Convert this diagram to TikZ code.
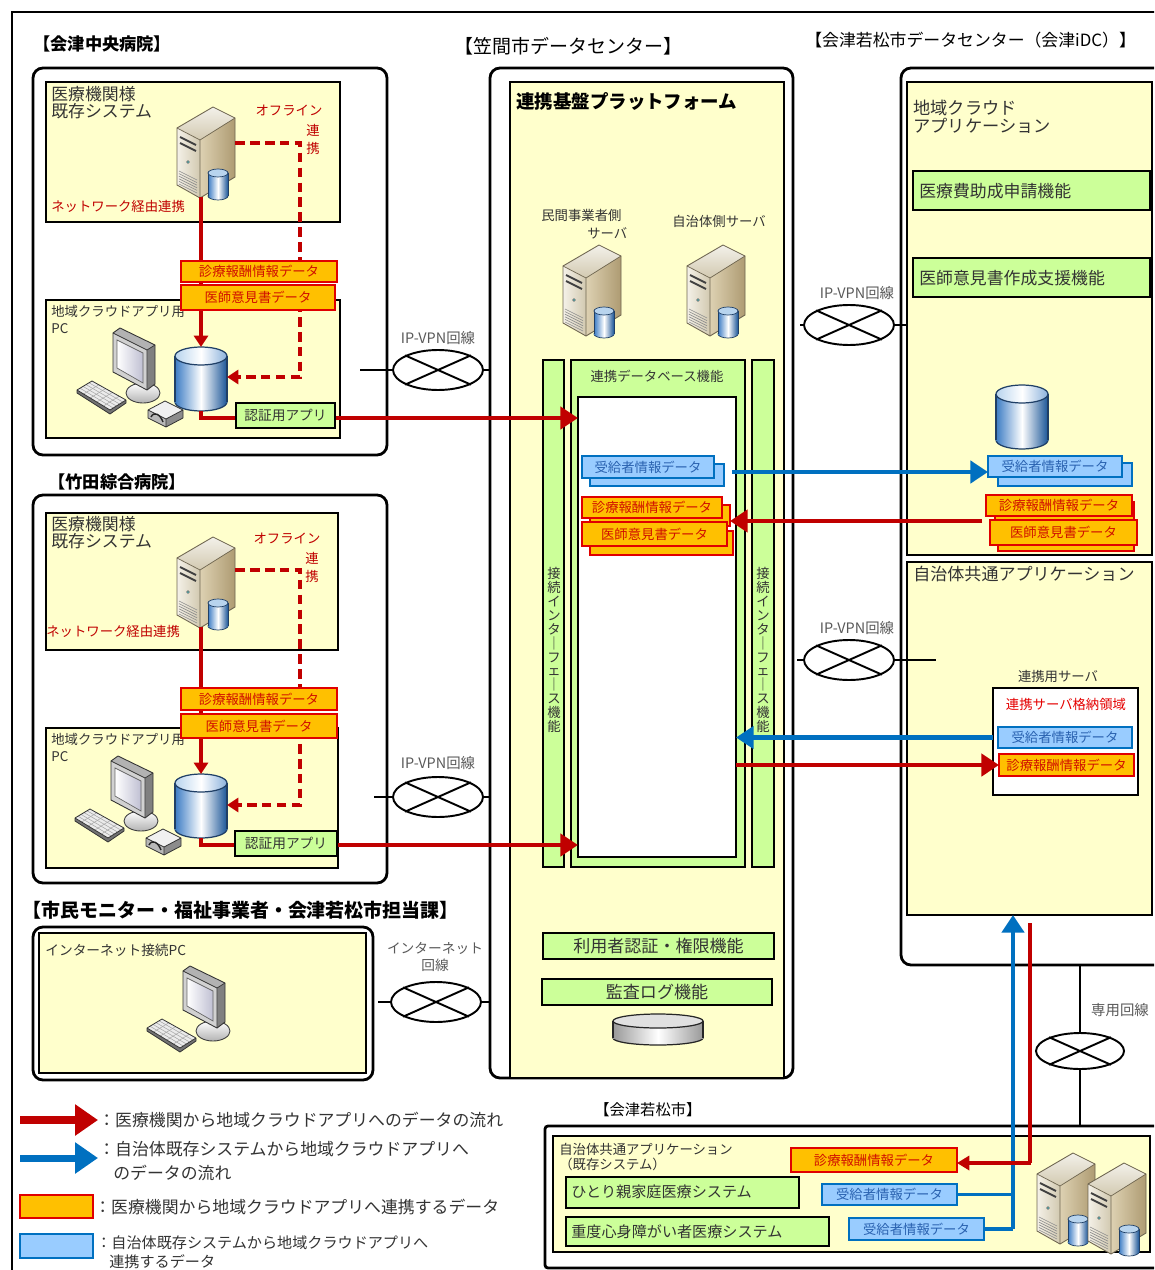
\documentclass[tikz,border=0pt]{standalone}
\usepackage{fontspec}
\setmainfont{Noto Sans CJK JP}
\usetikzlibrary{arrows.meta,calc,shapes.geometric}

\definecolor{paleyellow}{HTML}{FFFFCC}
\definecolor{palegreen}{HTML}{CCFF99}
\definecolor{tagorange}{HTML}{FFC000}
\definecolor{tagred}{HTML}{E00000}
\definecolor{tagredtext}{HTML}{D01000}
\definecolor{tagblue}{HTML}{99CCFF}
\definecolor{tagblueedge}{HTML}{0070C0}
\definecolor{tagbluetext}{HTML}{2A62B0}
\definecolor{flowredc}{HTML}{C00000}
\definecolor{flowbluec}{HTML}{0070C0}
\definecolor{notered}{HTML}{C00000}
\definecolor{labelgray}{HTML}{333333}
\definecolor{srvtop}{HTML}{F3F1EA}
\definecolor{srvfrontA}{HTML}{F4F1E8}
\definecolor{srvfrontB}{HTML}{D2C9B0}
\definecolor{srvsideA}{HTML}{DDD1B2}
\definecolor{srvsideB}{HTML}{AE9B72}
\definecolor{srvedge}{HTML}{6E6550}
\definecolor{cylA}{HTML}{3C7CC4}
\definecolor{cylB}{HTML}{1A5597}
\definecolor{cyltop}{HTML}{B8D4EE}
\definecolor{cyledge}{HTML}{1F3F66}

\newcommand\fsz[1]{\fontsize{#1}{#1}\selectfont}
\newcommand\fszl[2]{\fontsize{#1}{#2}\selectfont}

% rectangle node given by its two corners in pixel units
\newcommand\pxrect[7]{%
  \pgfmathsetmacro\pxw{((#5)-(#3))*0.02}%
  \pgfmathsetmacro\pxh{((#6)-(#4))*0.02}%
  \node[#2, rectangle, inner sep=0pt, outer sep=0pt,
        minimum width=\pxw cm, minimum height=\pxh cm]
        (#1) at ({((#3)+(#5))/2},{((#4)+(#6))/2}) {#7};}

% network cloud symbol: ellipse with a cross
\newcommand\vpnoval[4][]{%
  \node[vpn,#1] (#2) at (#3,#4) {};
  \draw[line width=1.1pt] (#2.24) -- (#2.204) (#2.156) -- (#2.336);}

\tikzset{
  rframe/.style={draw, line width=1.6pt, rounded corners=0.2cm, fill=white},
  ybox/.style={draw, line width=1.1pt, fill=paleyellow},
  gbox/.style={draw, line width=1.1pt, fill=palegreen},
  wbox/.style={draw, line width=1.1pt, fill=white},
  otag/.style={draw=tagred, line width=1.1pt, fill=tagorange, text=tagredtext, font=\fsz{7.6}},
  btag/.style={draw=tagblueedge, line width=1.1pt, fill=tagblue, text=tagbluetext, font=\fsz{7.6}},
  otagsh/.style={draw=tagred, line width=1.1pt, fill=tagorange},
  btagsh/.style={draw=tagblueedge, line width=1.1pt, fill=tagblue},
  title/.style={font=\bfseries\fsz{9.8}, anchor=west, inner sep=0pt},
  lbl/.style={inner sep=0pt, text=labelgray},
  small/.style={lbl, font=\fsz{7.6}},
  netlbl/.style={inner sep=0pt, text=black!65, font=\fsz{8.2}},
  redsmall/.style={inner sep=0pt, text=notered, font=\fsz{7.6}},
  vpn/.style={ellipse, draw, line width=1.1pt, fill=white, minimum width=1.8cm, minimum height=0.8cm, inner sep=0pt},
  link/.style={line width=0.9pt},
  flowr/.style={draw=flowredc, line width=2.8pt, -{Triangle[length=10pt,width=12.5pt]}},
  flowb/.style={draw=flowbluec, line width=2.8pt, -{Triangle[length=10pt,width=12.5pt]}},
  legr/.style={draw=flowredc, line width=4pt, -{Triangle[length=13pt,width=17pt]}},
  legb/.style={draw=flowbluec, line width=4pt, -{Triangle[length=13pt,width=17pt]}},
  netr/.style={draw=flowredc, line width=2pt, -{Triangle[length=6.5pt,width=8pt]}},
  offr/.style={netr, dash pattern=on 5.5pt off 3pt},
  holder/.style={inner sep=0pt, outer sep=0pt},
  % tower server with a small database drum
  server/.pic={
    \shade[top color=srvtop, bottom color=srvfrontB] (-29,-24) -- (7,-45) -- (29,-34) -- (-6,-12) -- cycle;
    \shade[left color=srvfrontA, right color=srvfrontB] (-29,-24) -- (-6,-12) -- (-6,46) -- (-29,33) -- cycle;
    \shade[left color=srvsideA, right color=srvsideB] (-6,-12) -- (29,-34) -- (29,25) -- (-6,46) -- cycle;
    \draw[srvedge, line width=0.5pt, line join=round] (-29,-24) -- (7,-45) -- (29,-34) -- (29,25) -- (-6,46) -- (-29,33) -- cycle;
    \draw[srvedge, line width=0.4pt] (-29,-24) -- (-6,-12) -- (29,-34) (-6,-12) -- (-6,46);
    \draw[black!75, line width=1.1pt] (-26,-15) -- (-10,-7) (-26,-9) -- (-10,-1);
    \fill[black!55] (-18,10) circle (1.8);
    \fill[teal!70] (-18,10) circle (1);
    \foreach \k in {0,1,2,3,4,5} \draw[black!45, line width=0.35pt] (-27,19+2.6*\k) -- (-9,28+2.6*\k);
    \shade[left color=cylA, right color=cylB, middle color=white] (12,44) ellipse [x radius=10, y radius=4];
    \draw[cyledge, line width=0.4pt] (12,44) ellipse [x radius=10, y radius=4];
    \shade[left color=cylA, right color=cylB, middle color=white] (2,21) rectangle (22,44);
    \draw[cyledge, line width=0.4pt] (2,21) -- (2,44) (22,21) -- (22,44);
    \fill[cyltop] (12,21) ellipse [x radius=10, y radius=4];
    \draw[cyledge, line width=0.4pt] (12,21) ellipse [x radius=10, y radius=4];
  },
  % database drum
  dbcyl/.pic={
    \shade[left color=cylA, right color=cylB, middle color=white] (0,23) ellipse [x radius=26, y radius=9];
    \draw[cyledge, line width=0.7pt] (0,23) ellipse [x radius=26, y radius=9];
    \shade[left color=cylA, right color=cylB, middle color=white] (-26,-23) rectangle (26,23);
    \draw[cyledge, line width=0.7pt] (-26,-23) -- (-26,23) (26,-23) -- (26,23);
    \shade[left color=cyltop, right color=cylA!60, middle color=white] (0,-23) ellipse [x radius=26, y radius=9];
    \draw[cyledge, line width=0.7pt] (0,-23) ellipse [x radius=26, y radius=9];
  },
  % flat grey storage disc
  disc/.pic={
    \shade[left color=black!40, right color=black!40, middle color=white] (0,9) ellipse [x radius=45, y radius=7];
    \draw[black!85, line width=0.7pt] (0,9) ellipse [x radius=45, y radius=7];
    \shade[left color=black!40, right color=black!40, middle color=white] (-45,-8) rectangle (45,9);
    \draw[black!85, line width=0.7pt] (-45,-8) -- (-45,9) (45,-8) -- (45,9);
    \fill[black!12] (0,-8) ellipse [x radius=45, y radius=7];
    \draw[black!85, line width=0.7pt] (0,-8) ellipse [x radius=45, y radius=7];
  },
  % monitor and keyboard
  pcset/.pic={
    \fill[black!40] (9,12) -- (19,8) -- (19,26) -- (9,28) -- cycle;
    \shade[top color=white, bottom color=black!30] (13,28) ellipse [x radius=17, y radius=10];
    \draw[black!75, line width=0.5pt] (13,28) ellipse [x radius=17, y radius=10];
    \fill[black!30] (-17,-32) -- (-10,-37) -- (25,-20) -- (17,-15) -- cycle;
    \fill[black!50] (17,-15) -- (25,-20) -- (25,19) -- (17,25) -- cycle;
    \fill[black!18] (-17,-32) -- (17,-15) -- (17,25) -- (-17,7) -- cycle;
    \shade[left color=white, right color=blue!30!black!25] (-13,-25) -- (13,-12) -- (13,18) -- (-13,3) -- cycle;
    \draw[black!80, line width=0.5pt, line join=round] (-17,-32) -- (-10,-37) -- (25,-20) -- (25,19) -- (17,25) -- (-17,7) -- cycle;
    \draw[black!80, line width=0.4pt] (-17,-32) -- (17,-15) -- (25,-20) (17,-15) -- (17,25);
    \draw[black!60, line width=0.4pt] (-13,-25) -- (13,-12) -- (13,18) -- (-13,3) -- cycle;
    \fill[black!55] (-53,25) -- (-20,45) -- (-4,35) -- (-4,38) -- (-20,49) -- (-53,28) -- cycle;
    \fill[black!8] (-53,25) -- (-38,16) -- (-4,35) -- (-20,45) -- cycle;
    \foreach \k in {0.2,0.4,0.6,0.8} \draw[black!35, line width=0.3pt] ($(-53,25)!\k!(-38,16)$) -- ($(-20,45)!\k!(-4,35)$);
    \foreach \k in {0.2,0.4,0.6,0.8} \draw[black!35, line width=0.3pt] ($(-53,25)!\k!(-20,45)$) -- ($(-38,16)!\k!(-4,35)$);
    \draw[black!80, line width=0.45pt, line join=round] (-53,25) -- (-38,16) -- (-4,35) -- (-4,38) -- (-20,49) -- (-53,28) -- cycle (-53,25) -- (-20,45) -- (-4,35);
  },
  % card reader beside the keyboard
  cardreader/.pic={
    \fill[black!6] (18,45) -- (35,36) -- (53,45) -- (36,54) -- cycle;
    \fill[black!28] (18,45) -- (36,54) -- (36,62) -- (18,53) -- cycle;
    \fill[black!45] (36,54) -- (53,45) -- (53,53) -- (36,62) -- cycle;
    \draw[black!80, line width=0.45pt, line join=round] (18,45) -- (35,36) -- (53,45) -- (53,53) -- (36,62) -- (18,53) -- cycle (18,45) -- (36,54) -- (53,45) (36,54) -- (36,62);
    \draw[black!85, line width=0.8pt] (21,52) .. controls (24,46) and (30,49) .. (33,57);
  },
}

\begin{document}
\begin{tikzpicture}[x=0.02cm, y=-0.02cm]
\path[use as bounding box] (0,0) rectangle (1154,1270);
\begin{scope}
\clip (0,0) rectangle (1154,1270);
\draw[line width=0.9pt] (12,1300) -- (12,12) -- (1200,12);

% ---------------- Aizu Chuo Hospital ----------------
\node[title] (h1title) at (33,44) {【会津中央病院】};
\pxrect{h1frame}{rframe}{33}{68}{387}{455}{}
\pxrect{h1sys}{ybox}{46}{82}{340}{222}{}
\pxrect{h1pc}{ybox}{46}{300}{340}{438}{}
\node[lbl, anchor=north west, align=left, font=\fszl{9.6}{8.6}] (h1systxt) at (51,86) {医療機関様\\既存システム};
\node[holder, minimum width=1.16cm, minimum height=1.82cm] (h1srv) at (206,152) {};
\pic at (h1srv) {server};
\node[redsmall] (h1off) at (289,111) {オフライン};
\node[redsmall] (h1ren) at (313,130) {連};
\node[redsmall] (h1kei) at (313,148) {携};
\node[redsmall, anchor=west] (h1net) at (51,206) {ネットワーク経由連携};
\node[lbl, anchor=north west, align=left, font=\fszl{7.6}{9.5}] (h1pctxt) at (51,305) {地域クラウドアプリ用\\PC};
\node[holder] (h1pcicon) at (130,365) {};
\pic at (h1pcicon) {pcset};
\pic at (h1pcicon) {cardreader};
\node[holder, minimum width=1.04cm, minimum height=1.28cm] (h1db) at (201,379) {};
\pic at (h1db) {dbcyl};
\draw[netr] (h1srv.south -| h1db.north) -- (h1db.north);
\draw[offr] (h1srv.east |- 0,143) -- (300,143) -- (300,377) -- (h1db.east |- 0,377);
\pxrect{h1tagA}{otag}{181}{261}{337}{282}{診療報酬情報データ}
\pxrect{h1tagB}{otag}{181}{285}{335}{310}{医師意見書データ}
\vpnoval{vpnA}{438}{370}
\node[netlbl] (vpnAlbl) at (438,338) {IP-VPN回線};
\coordinate (vpnAl) at (360,370);
\coordinate (vpnAr) at (500,370);
\draw[link] (vpnAl) -- (vpnA.west) (vpnA.east) -- (vpnAr);

% ---------------- Takeda General Hospital ----------------
\node[title] (h2title) at (48,482) {【竹田綜合病院】};
\pxrect{h2frame}{rframe}{33}{495}{387}{883}{}
\pxrect{h2sys}{ybox}{46}{513}{338}{650}{}
\pxrect{h2pc}{ybox}{46}{728}{338}{868}{}
\node[lbl, anchor=north west, align=left, font=\fszl{9.6}{8.6}] (h2systxt) at (51,516) {医療機関様\\既存システム};
\node[holder, minimum width=1.16cm, minimum height=1.82cm] (h2srv) at (206,582) {};
\pic at (h2srv) {server};
\node[redsmall] (h2off) at (287,539) {オフライン};
\node[redsmall] (h2ren) at (312,558) {連};
\node[redsmall] (h2kei) at (312,576) {携};
\node[redsmall, anchor=west] (h2net) at (46,631) {ネットワーク経由連携};
\node[lbl, anchor=north west, align=left, font=\fszl{7.6}{9.5}] (h2pctxt) at (51,733) {地域クラウドアプリ用\\PC};
\node[holder] (h2pcicon) at (128,793) {};
\pic at (h2pcicon) {pcset};
\pic at (h2pcicon) {cardreader};
\node[holder, minimum width=1.04cm, minimum height=1.28cm] (h2db) at (201,806) {};
\pic at (h2db) {dbcyl};
\draw[netr] (h2srv.south -| h2db.north) -- (h2db.north);
\draw[offr] (h2srv.east |- 0,570) -- (300,570) -- (300,805) -- (h2db.east |- 0,805);
\pxrect{h2tagA}{otag}{181}{688}{337}{710}{診療報酬情報データ}
\pxrect{h2tagB}{otag}{181}{714}{337}{738}{医師意見書データ}
\vpnoval{vpnB}{438}{797}
\node[netlbl] (vpnBlbl) at (438,763) {IP-VPN回線};
\coordinate (vpnBl) at (374,797);
\coordinate (vpnBr) at (498,797);
\draw[link] (vpnBl) -- (vpnB.west) (vpnB.east) -- (vpnBr);

% ---------------- Citizens and offices ----------------
\node[title, font=\bfseries\fsz{10.8}] (mtitle) at (22,910) {【市民モニター・福祉事業者・会津若松市担当課】};
\pxrect{mframe}{rframe}{33}{927}{373}{1080}{}
\pxrect{mbox}{ybox}{39}{933}{366}{1073}{}
\node[lbl, anchor=west, font=\fsz{7.8}] (mpctxt) at (45,950) {インターネット接続PC};
\node[holder] (mpc) at (200,1003) {};
\pic at (mpc) {pcset};
\vpnoval{vpnE}{436}{1002}
\node[netlbl, align=center, font=\fszl{7.8}{10}] (vpnElbl) at (435,957) {インターネット\\回線};
\coordinate (vpnEl) at (378,1002);
\coordinate (vpnEr) at (494,1002);
\draw[link] (vpnEl) -- (vpnE.west) (vpnE.east) -- (vpnEr);

% ---------------- Kasama data center ----------------
\node[anchor=west, inner sep=0pt, font=\fsz{10.8}] (ktitle) at (454,46) {【笠間市データセンター】};
\pxrect{kframe}{rframe}{490}{68}{793}{1078}{}
\pxrect{kplat}{ybox}{510}{82}{784}{1078}{}
\node[anchor=west, inner sep=0pt, font=\bfseries\fsz{10.5}] (kplattitle) at (516,101) {連携基盤プラットフォーム};
\node[small, anchor=west] (kpriv1) at (541,215) {民間事業者側};
\node[small, anchor=west] (kpriv2) at (587,233) {サーバ};
\node[holder, minimum width=1.16cm, minimum height=1.82cm] (ksrvA) at (592,290) {};
\pic at (ksrvA) {server};
\node[small, anchor=west] (kmun) at (672,221) {自治体側サーバ};
\node[holder, minimum width=1.16cm, minimum height=1.82cm] (ksrvB) at (716,290) {};
\pic at (ksrvB) {server};
\pxrect{kbarL}{gbox}{543}{360}{564}{867}{}
\pxrect{kdbf}{gbox}{571}{360}{745}{867}{}
\pxrect{kbarR}{gbox}{752}{360}{774}{867}{}
\node[small] (kdbftitle) at (657,376) {連携データベース機能};
\pxrect{kdbw}{wbox}{578}{397}{736}{857}{}
\node[lbl, font=\fszl{7.6}{7.9}, align=center] (kbarLtxt) at (554,650) {接\\続\\イ\\ン\\タ\\｜\\フ\\ェ\\｜\\ス\\機\\能};
\node[lbl, font=\fszl{7.6}{7.9}, align=center] (kbarRtxt) at (763,650) {接\\続\\イ\\ン\\タ\\｜\\フ\\ェ\\｜\\ス\\機\\能};
\pxrect{kbsh}{btagsh}{590}{464}{724}{486}{}
\pxrect{kbtag}{btag}{582}{456}{714}{478}{受給者情報データ}
\pxrect{kosh1}{otagsh}{590}{505}{730}{526}{}
\pxrect{kotag1}{otag}{582}{497}{722}{518}{診療報酬情報データ}
\pxrect{kosh2}{otagsh}{590}{531}{733}{555}{}
\pxrect{kotag2}{otag}{582}{522}{727}{546}{医師意見書データ}
\pxrect{kauth}{gbox, font=\fsz{9.7}, text=labelgray}{543}{933}{774}{959}{利用者認証・権限機能}
\pxrect{klog}{gbox, font=\fsz{9.7}, text=labelgray}{542}{979}{772}{1005}{監査ログ機能}
\node[holder, minimum width=1.8cm, minimum height=0.64cm] (kdisc) at (658,1029) {};
\pic at (kdisc) {disc};

% ---------------- Aizu iDC ----------------
\node[anchor=west, inner sep=0pt, font=\fsz{9.6}] (ititle) at (805,40) {【会津若松市データセンター（会津iDC）】};
\pxrect{iframe}{rframe}{901}{68}{1190}{965}{}
\pxrect{iapp}{ybox}{907}{82}{1152}{555}{}
\node[lbl, anchor=north west, align=left, font=\fszl{9.8}{8.8}] (iapptitle) at (913,100) {地域クラウド\\アプリケーション};
\pxrect{ifunc1}{gbox}{913}{171}{1150}{210}{}
\node[lbl, anchor=west, font=\fsz{9.6}] (ifunc1txt) at (919,191) {医療費助成申請機能};
\pxrect{ifunc2}{gbox}{913}{258}{1150}{297}{}
\node[lbl, anchor=west, font=\fsz{9.6}] (ifunc2txt) at (919,278) {医師意見書作成支援機能};
\node[holder, minimum width=1.04cm, minimum height=1.28cm] (idb) at (1022,417) {};
\pic at (idb) {dbcyl};
\pxrect{ibsh}{btagsh}{998}{463}{1132}{486}{}
\pxrect{ibtag}{btag}{988}{456}{1122}{477}{受給者情報データ}
\pxrect{iosh1}{otagsh}{995}{502}{1134}{522}{}
\pxrect{iotag1}{otag}{986}{495}{1132}{516}{診療報酬情報データ}
\pxrect{iosh2}{otagsh}{998}{528}{1134}{551}{}
\pxrect{iotag2}{otag}{990}{520}{1137}{545}{医師意見書データ}
\pxrect{icommon}{ybox}{907}{562}{1152}{915}{}
\node[lbl, anchor=west, font=\fsz{9.7}] (icommontitle) at (913,574) {自治体共通アプリケーション};
\node[small] (irelaytitle) at (1058,676) {連携用サーバ};
\pxrect{irelay}{wbox}{993}{688}{1138}{795}{}
\node[inner sep=0pt, text=red!90!black, font=\fsz{7.6}] (irelayarea) at (1066,704) {連携サーバ格納領域};
\pxrect{irbtag}{btag}{998}{727}{1132}{748}{受給者情報データ}
\pxrect{irotag}{otag}{999}{754}{1134}{776}{診療報酬情報データ}

\vpnoval{vpnC}{849}{325}
\node[netlbl] (vpnClbl) at (857,293) {IP-VPN回線};
\coordinate (vpnCl) at (800,325);
\draw[link] (vpnCl) -- (vpnC.west) (vpnC.east) -- (iapp.west |- vpnC.east);
\vpnoval{vpnD}{849}{660}
\node[netlbl] (vpnDlbl) at (857,628) {IP-VPN回線};
\coordinate (vpnDl) at (797,660);
\coordinate (vpnDr) at (936,660);
\draw[link] (vpnDl) -- (vpnD.west) (vpnD.east) -- (vpnDr);

% ---------------- Aizuwakamatsu city ----------------
\node[anchor=west, inner sep=0pt, font=\fsz{8.7}] (ctitle) at (594,1110) {【会津若松市】};
\pxrect{cframe}{draw, line width=1.6pt, fill=white, rounded corners=0.06cm}{545}{1126}{1175}{1268}{}
\pxrect{capp}{ybox}{553}{1136}{1150}{1252}{}
\node[lbl, anchor=north west, align=left, font=\fszl{7.6}{8.2}] (capptxt) at (559,1143) {自治体共通アプリケーション\\（既存システム）};
\pxrect{csys1}{gbox}{566}{1177}{799}{1208}{}
\node[lbl, anchor=west, font=\fsz{8.6}] (csys1txt) at (571,1192) {ひとり親家庭医療システム};
\pxrect{csys2}{gbox}{566}{1217}{829}{1246}{}
\node[lbl, anchor=west, font=\fsz{8.6}] (csys2txt) at (571,1232) {重度心身障がい者医療システム};
\pxrect{cotag}{otag}{791}{1148}{957}{1172}{診療報酬情報データ}
\pxrect{cbtag1}{btag}{822}{1184}{957}{1205}{受給者情報データ}
\pxrect{cbtag2}{btag}{849}{1218}{984}{1240}{受給者情報データ}
\node[holder, minimum width=1.16cm, minimum height=1.82cm] (csrvA) at (1066,1198) {};
\pic at (csrvA) {server};
\node[holder, minimum width=1.16cm, minimum height=1.82cm] (csrvB) at (1117,1208) {};
\pic at (csrvB) {server};

% dedicated line between the city and iDC
\vpnoval[minimum width=1.76cm, minimum height=0.72cm]{vpnF}{1080}{1051}
\node[netlbl] (vpnFlbl) at (1120,1010) {専用回線};
\draw[link] (iframe.south -| vpnF.north) -- (vpnF.north) (vpnF.south) -- (cframe.north -| vpnF.south);

% ---------------- data flows ----------------
\draw[flowr] (h1db.south) |- (kdbw.west |- 0,418);
\draw[flowr] (h2db.south) |- (kdbw.west |- 0,845);
\pxrect{h1auth}{gbox, font=\fsz{7.8}, text=labelgray}{236}{403}{335}{428}{認証用アプリ}
\pxrect{h2auth}{gbox, font=\fsz{7.8}, text=labelgray}{235}{831}{337}{856}{認証用アプリ}
\coordinate (kbstart) at (732,472);
\draw[flowb] (kbstart) -- (ibtag.west |- kbstart);
\coordinate (irstart) at (982,521);
\draw[flowr] (irstart) -- (kosh1.east |- irstart);
\draw[flowb] (irelay.west |- irbtag.west) -- (kdbw.east |- irbtag.west);
\draw[flowr] (kdbw.east |- irotag.west) -- (irotag.west);
\coordinate (cbjoin) at (1013,1229);
\draw[flowbluec, line width=2pt] (cbtag1.east) -- (cbtag1.east -| cbjoin);
\draw[flowbluec, line width=2pt] (cbtag2.east) -- (cbjoin);
\draw[flowb] (cbjoin) -- (icommon.south -| cbjoin);
\coordinate (crtop) at (1030,923);
\draw[flowredc, line width=2.8pt] (crtop) -- (1030,1163);
\draw[flowredc, line width=2pt, -{Triangle[length=7pt,width=8pt]}] (1031,1163) -- (cotag.east |- 0,1163);

% ---------------- legend ----------------
\coordinate (legRa) at (20,1120);
\coordinate (legRb) at (98,1120);
\draw[legr] (legRa) -- (legRb);
\node[lbl, anchor=west, font=\fsz{9.6}] (leg1) at (98,1120) {：医療機関から地域クラウドアプリへのデータの流れ};
\coordinate (legBa) at (20,1158);
\coordinate (legBb) at (98,1158);
\draw[legb] (legBa) -- (legBb);
\node[lbl, anchor=west, font=\fsz{9.6}] (leg2a) at (98,1149) {：自治体既存システムから地域クラウドアプリへ};
\node[lbl, anchor=west, font=\fsz{9.6}] (leg2b) at (113,1173) {のデータの流れ};
\pxrect{leg3box}{otagsh}{20}{1195}{93}{1218}{}
\node[lbl, anchor=west, font=\fsz{9.6}] (leg3) at (94,1207) {：医療機関から地域クラウドアプリへ連携するデータ};
\pxrect{leg4box}{btagsh}{20}{1234}{93}{1258}{}
\node[lbl, anchor=west, font=\fsz{8.6}] (leg4a) at (96,1243) {：自治体既存システムから地域クラウドアプリへ};
\node[lbl, anchor=west, font=\fsz{8.6}] (leg4b) at (109,1262) {連携するデータ};
\end{scope}
\end{tikzpicture}
\end{document}
